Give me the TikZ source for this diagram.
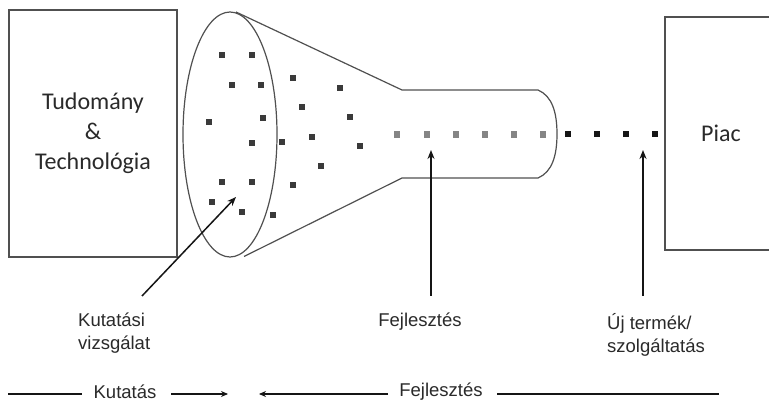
\documentclass[tikz,border=0pt]{standalone}
\usepackage{fontspec}
\setmainfont{Liberation Sans}
\newfontfamily\boxfont{Carlito}
\usetikzlibrary{arrows.meta}
\definecolor{linec}{HTML}{505050}
\definecolor{dotc}{HTML}{3A3A3A}
\definecolor{greyc}{HTML}{858585}
\definecolor{blackc}{HTML}{151515}
\definecolor{txtc}{HTML}{2A2A2A}
\begin{document}
\begin{tikzpicture}[x=1pt,y=-1pt,
  shape line/.style={draw=linec, line width=1.2pt},
  boxnode/.style={shape line, rectangle, inner sep=0pt, text=txtc,
     font=\boxfont\fontsize{24}{30}\selectfont, align=center},
  lbl/.style={text=txtc, font=\fontsize{18.5}{23}\selectfont, align=left, inner sep=0pt},
  pointer/.style={draw=blackc, line width=1.5pt, -{Stealth[length=9pt,width=7pt]}},
  bline/.style={draw=blackc, line width=1.1pt},
  barrow/.style={draw=blackc, line width=1.1pt, -{Stealth[length=7pt,width=6pt]}},
  dk/.style={fill=dotc, minimum size=6.5pt, inner sep=0pt, rectangle},
  gr/.style={fill=greyc, minimum size=6.5pt, inner sep=0pt, rectangle},
  bk/.style={fill=blackc, minimum size=6pt, inner sep=0pt, rectangle}]
\useasboundingbox[fill=white] (0,0) rectangle (769,403);

% boxes
\node[boxnode, minimum width=168pt, minimum height=247pt] (tt) at (93,133.5)
  {Tudomány\\\&\\Technológia};
\node[boxnode, minimum width=130pt, minimum height=233pt, text width=110pt] (piac) at (730,133.5)
  {\hspace*{-18pt}Piac};

% funnel
\draw[shape line] (230,134.5) ellipse [x radius=47, y radius=122.5];
\coordinate (ct) at (236,12);
\coordinate (cb) at (244,256.5);
\coordinate (tt1) at (402,90);
\coordinate (tb1) at (402,178);
\coordinate (te1) at (538,90);
\coordinate (te2) at (538,178);
\draw[shape line] (ct) -- (tt1) -- (te1)
  .. controls (552,96) and (557,112) .. (557,134)
  .. controls (557,156) and (552,172) .. (te2) -- (tb1) -- (cb);

% dark dots
\foreach \p/\n in {{(222,55)}/1,{(252,55)}/2,{(293,78)}/3,{(340,88)}/4,{(232,85)}/5,
  {(261,85)}/6,{(302,107)}/7,{(350,117)}/8,{(209,122)}/9,{(263,118)}/10,
  {(252,143)}/11,{(282,142)}/12,{(312,137)}/13,{(360,146)}/14,{(321,166)}/15,
  {(222,182)}/16,{(252,182)}/17,{(293,185)}/18,{(212,202)}/19,{(242,212)}/20,
  {(273,215)}/21}
  \node[dk] (d\n) at \p {};
% grey dots
\foreach \x/\n in {397/1,427/2,456/3,485/4,514/5,543/6}
  \node[gr] (g\n) at (\x,134.5) {};
% black dots
\foreach \x/\n in {568/1,597/2,626/3,655/4}
  \node[bk] (b\n) at (\x,134.5) {};

% labels and pointers
\node[lbl, anchor=north west] (kv) at (78,313) {Kutatási\\vizsgálat};
\node[lbl, anchor=north] (fj) at (420,313) {Fejlesztés};
\node[lbl, anchor=north west] (uj) at (607,313) {Új termék/\\szolgáltatás};
\coordinate (kvs) at (142,296);
\coordinate (kvt) at (236,197);
\coordinate (fjs) at (431,296);
\coordinate (fjt) at (431,150);
\coordinate (ujs) at (643,296);
\coordinate (ujt) at (643,150);
\draw[pointer] (kvs) -- (kvt);
\draw[pointer] (fjs) -- (fjt);
\draw[pointer] (ujs) -- (ujt);

% bottom row
\node[lbl] (kt) at (125,392) {Kutatás};
\node[lbl] (fb) at (441,392) {Fejlesztés};
\coordinate (l1) at (8,394);
\coordinate (a1) at (171,394);
\coordinate (a1e) at (228,394);
\coordinate (a2) at (388,394);
\coordinate (a2e) at (259,394);
\coordinate (l2) at (719,394);
\draw[bline] (l1) -- (82,394);
\draw[barrow] (a1) -- (a1e);
\draw[barrow] (a2) -- (a2e);
\draw[bline] (497,394) -- (l2);
\end{tikzpicture}
\end{document}
